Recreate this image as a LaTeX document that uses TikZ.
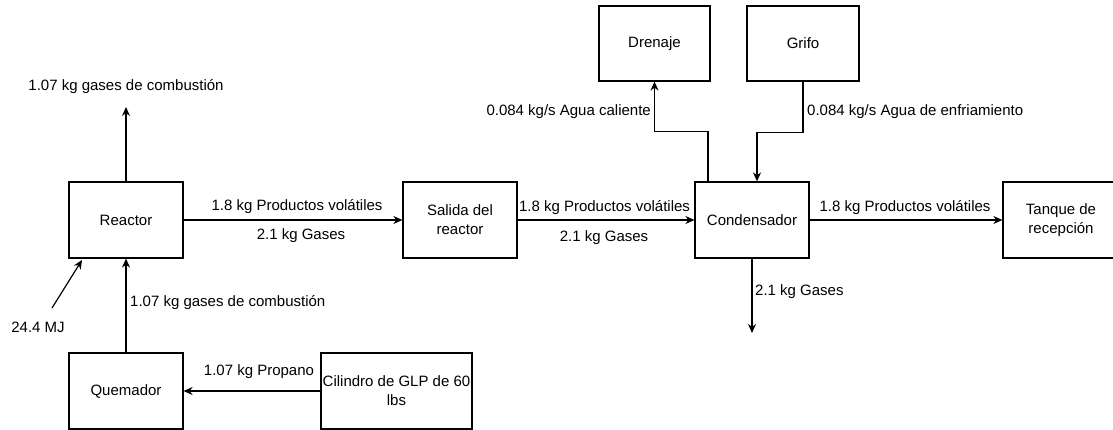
\documentclass[tikz,border=0pt]{standalone}
\usepackage{fontspec}
\setmainfont{Liberation Sans}
\usetikzlibrary{arrows.meta}
\begin{document}
\begin{tikzpicture}[x=1pt,y=-1pt,
  box/.style={draw, line width=1.2pt, minimum width=114pt, minimum height=76pt,
    inner sep=0pt, align=center, font=\fontsize{15}{19}\selectfont},
  flow/.style={draw, line width=1.2pt, -{Stealth[length=9pt,width=8pt]}},
  lbl/.style={font=\fontsize{15}{18}\selectfont, inner sep=0pt}]
\useasboundingbox (0,0) rectangle (1113,430);

% boxes
\node[box] (reactor) at (126,220) {Reactor};
\node[box] (salida) at (460,220) {Salida del\\reactor};
\node[box] (cond) at (752,220) {Condensador};
\node[box, minimum width=124pt] (tanque) at (1065,220) {\hspace*{-8pt}Tanque de\\\hspace*{-8pt}recepci\'on};
\node[box, minimum width=111pt, minimum height=75pt] (drenaje) at (654.5,43.5) {Drenaje};
\node[box, minimum width=112pt, minimum height=75pt] (grifo) at (803,43.5) {Grifo};
\node[box] (quemador) at (126,391) {Quemador};
\node[box, minimum width=151pt] (cil) at (396.5,391) {Cilindro de GLP de 60\\lbs};

% free ends
\coordinate (gastop) at (126,107);
\coordinate (mjs) at (52,308);
\coordinate (mje) at (82,260);
\coordinate (gasout) at (752,333);

% connectors
\draw[flow] (reactor.north) -- (gastop);
\node[lbl] at (126,87) {1.07 kg gases de combusti\'on};

\draw[flow] (reactor) -- (salida);
\node[lbl] at (297,207) {1.8 kg Productos vol\'atiles};
\node[lbl] at (301,236) {2.1 kg Gases};

\draw[flow] (salida) -- (cond);
\node[lbl] at (604.5,208) {1.8 kg Productos vol\'atiles};
\node[lbl] at (604,238) {2.1 kg Gases};

\draw[flow] (cond) -- (tanque);
\node[lbl] at (905,208) {1.8 kg Productos vol\'atiles};

\draw[flow] (quemador.north) -- (reactor.south);
\node[lbl, anchor=west] at (130,303) {1.07 kg gases de combusti\'on};

\draw[flow] (mjs) -- (mje);
\node[lbl] at (38,327) {24.4 MJ};

\draw[flow] (cil) -- (quemador);
\node[lbl] at (259,372) {1.07 kg Propano};

\draw[flow] (cond.south) -- (gasout);
\node[lbl, anchor=west] at (755,292) {2.1 kg Gases};

\draw[flow] ([xshift=-44pt]cond.north) -- ++(0,-50) -| (drenaje.south);
\node[lbl, anchor=east] at (651,112) {0.084 kg/s Agua caliente};

\draw[flow] (grifo.south) -- ++(0,51) -| ([xshift=5pt]cond.north);
\node[lbl, anchor=west] at (807,112) {0.084 kg/s Agua de enfriamiento};
\end{tikzpicture}
\end{document}
